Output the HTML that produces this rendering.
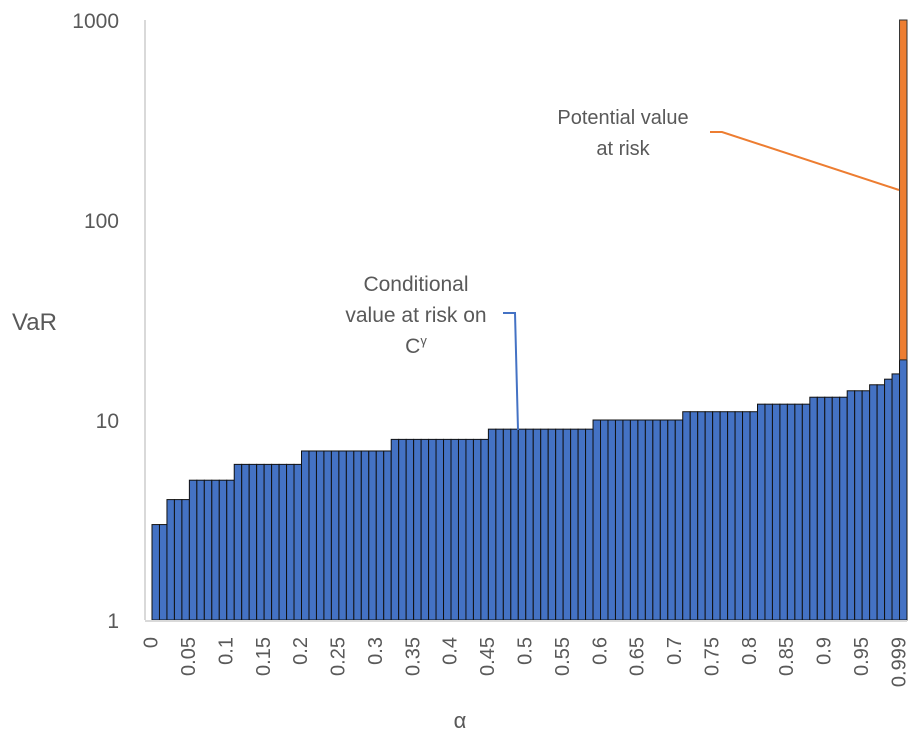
<!DOCTYPE html>
<html><head><meta charset="utf-8">
<style>
html,body{margin:0;padding:0;background:#fff;}
svg{display:block;font-family:"Liberation Sans",sans-serif;}
</style></head>
<body>
<svg id="chart" width="921" height="738" viewBox="0 0 921 738" xmlns="http://www.w3.org/2000/svg">
  <g id="bars"></g>
  <line x1="145" y1="20" x2="145" y2="620" stroke="#d9d9d9" stroke-width="2"/>
  <line x1="145" y1="621" x2="907" y2="621" stroke="#d9d9d9" stroke-width="2"/>
  <g id="yticks"></g>
  <g id="xticks"></g>
  <text x="12" y="330" font-size="24" fill="#595959">VaR</text>
  <text x="460" y="728" font-size="22" fill="#595959" text-anchor="middle">α</text>
  <g font-size="21" fill="#595959" text-anchor="middle">
    <text x="416" y="291">Conditional</text>
    <text x="416" y="322">value at risk on</text>
    <text x="416" y="353">C<tspan font-size="13" dy="-8">γ</tspan></text>
    <polyline points="503,313 515,313 518,430" fill="none" stroke="#4472c4" stroke-width="2"/>
  </g>
  <g font-size="20" fill="#595959" text-anchor="middle">
    <text x="623" y="124">Potential value</text>
    <text x="623" y="155">at risk</text>
    <polyline points="710,132 722,132 899,190" fill="none" stroke="#ed7d31" stroke-width="2"/>
  </g>
</svg>
<script>
const blueValues = [3,3,4,4,4,5,5,5,5,5,5,6,6,6,6,6,6,6,6,6,7,7,7,7,7,7,7,7,7,7,7,7,8,8,8,8,8,8,8,8,8,8,8,8,8,9,9,9,9,9,9,9,9,9,9,9,9,9,9,10,10,10,10,10,10,10,10,10,10,10,10,11,11,11,11,11,11,11,11,11,11,12,12,12,12,12,12,12,13,13,13,13,13,14,14,14,15,15,16,17,20];
const orangeValues = [0,0,0,0,0,0,0,0,0,0,0,0,0,0,0,0,0,0,0,0,0,0,0,0,0,0,0,0,0,0,0,0,0,0,0,0,0,0,0,0,0,0,0,0,0,0,0,0,0,0,0,0,0,0,0,0,0,0,0,0,0,0,0,0,0,0,0,0,0,0,0,0,0,0,0,0,0,0,0,0,0,0,0,0,0,0,0,0,0,0,0,0,0,0,0,0,0,0,0,0,980];
const xTickLabels = ["0","0.05","0.1","0.15","0.2","0.25","0.3","0.35","0.4","0.45","0.5","0.55","0.6","0.65","0.7","0.75","0.8","0.85","0.9","0.95","0.999"];
const yTickValues = [1,10,100,1000];

const NS="http://www.w3.org/2000/svg";
const x0=152, x1=907, yBase=620, pxPerDecade=200;
const n=blueValues.length;
const bw=(x1-x0)/n;
function xs(i){return x0+i*bw;}
function ys(v){return yBase-pxPerDecade*Math.log10(v);}

const gb=document.getElementById('bars');
for(let i=0;i<n;i++){
  const b=blueValues[i];
  const r=document.createElementNS(NS,'rect');
  
  
  r.setAttribute('x',xs(i));r.setAttribute('width',bw);
  r.setAttribute('y',ys(b));r.setAttribute('height',yBase-ys(b));
  r.setAttribute('fill','#4472c4');r.setAttribute('stroke','#111');r.setAttribute('stroke-width','1');
  gb.appendChild(r);
  const o=orangeValues[i];
  if(o>0){
    const r2=document.createElementNS(NS,'rect');
    
    
    r2.setAttribute('x',xs(i));r2.setAttribute('width',bw);
    r2.setAttribute('y',ys(b+o));r2.setAttribute('height',ys(b)-ys(b+o));
    r2.setAttribute('fill','#ed7d31');r2.setAttribute('stroke','#333');r2.setAttribute('stroke-width','1');
    gb.appendChild(r2);
  }
}
const gy=document.getElementById('yticks');
yTickValues.forEach(v=>{
  const t=document.createElementNS(NS,'text');
  
  
  t.setAttribute('x',119);t.setAttribute('y',ys(v)+8);
  t.setAttribute('text-anchor','end');t.setAttribute('font-size','21');t.setAttribute('fill','#595959');
  t.textContent=String(v);gy.appendChild(t);
});
const gx=document.getElementById('xticks');
xTickLabels.forEach((lab,j)=>{
  const i=j*5;
  const cx=xs(i)+bw/2-5;
  const t=document.createElementNS(NS,'text');
  
  
  t.setAttribute('transform','translate('+(cx+7)+',637) rotate(-90)');
  t.setAttribute('text-anchor','end');t.setAttribute('font-size','20');t.setAttribute('fill','#595959');
  t.textContent=lab;gx.appendChild(t);
});
</script>
</body></html>
